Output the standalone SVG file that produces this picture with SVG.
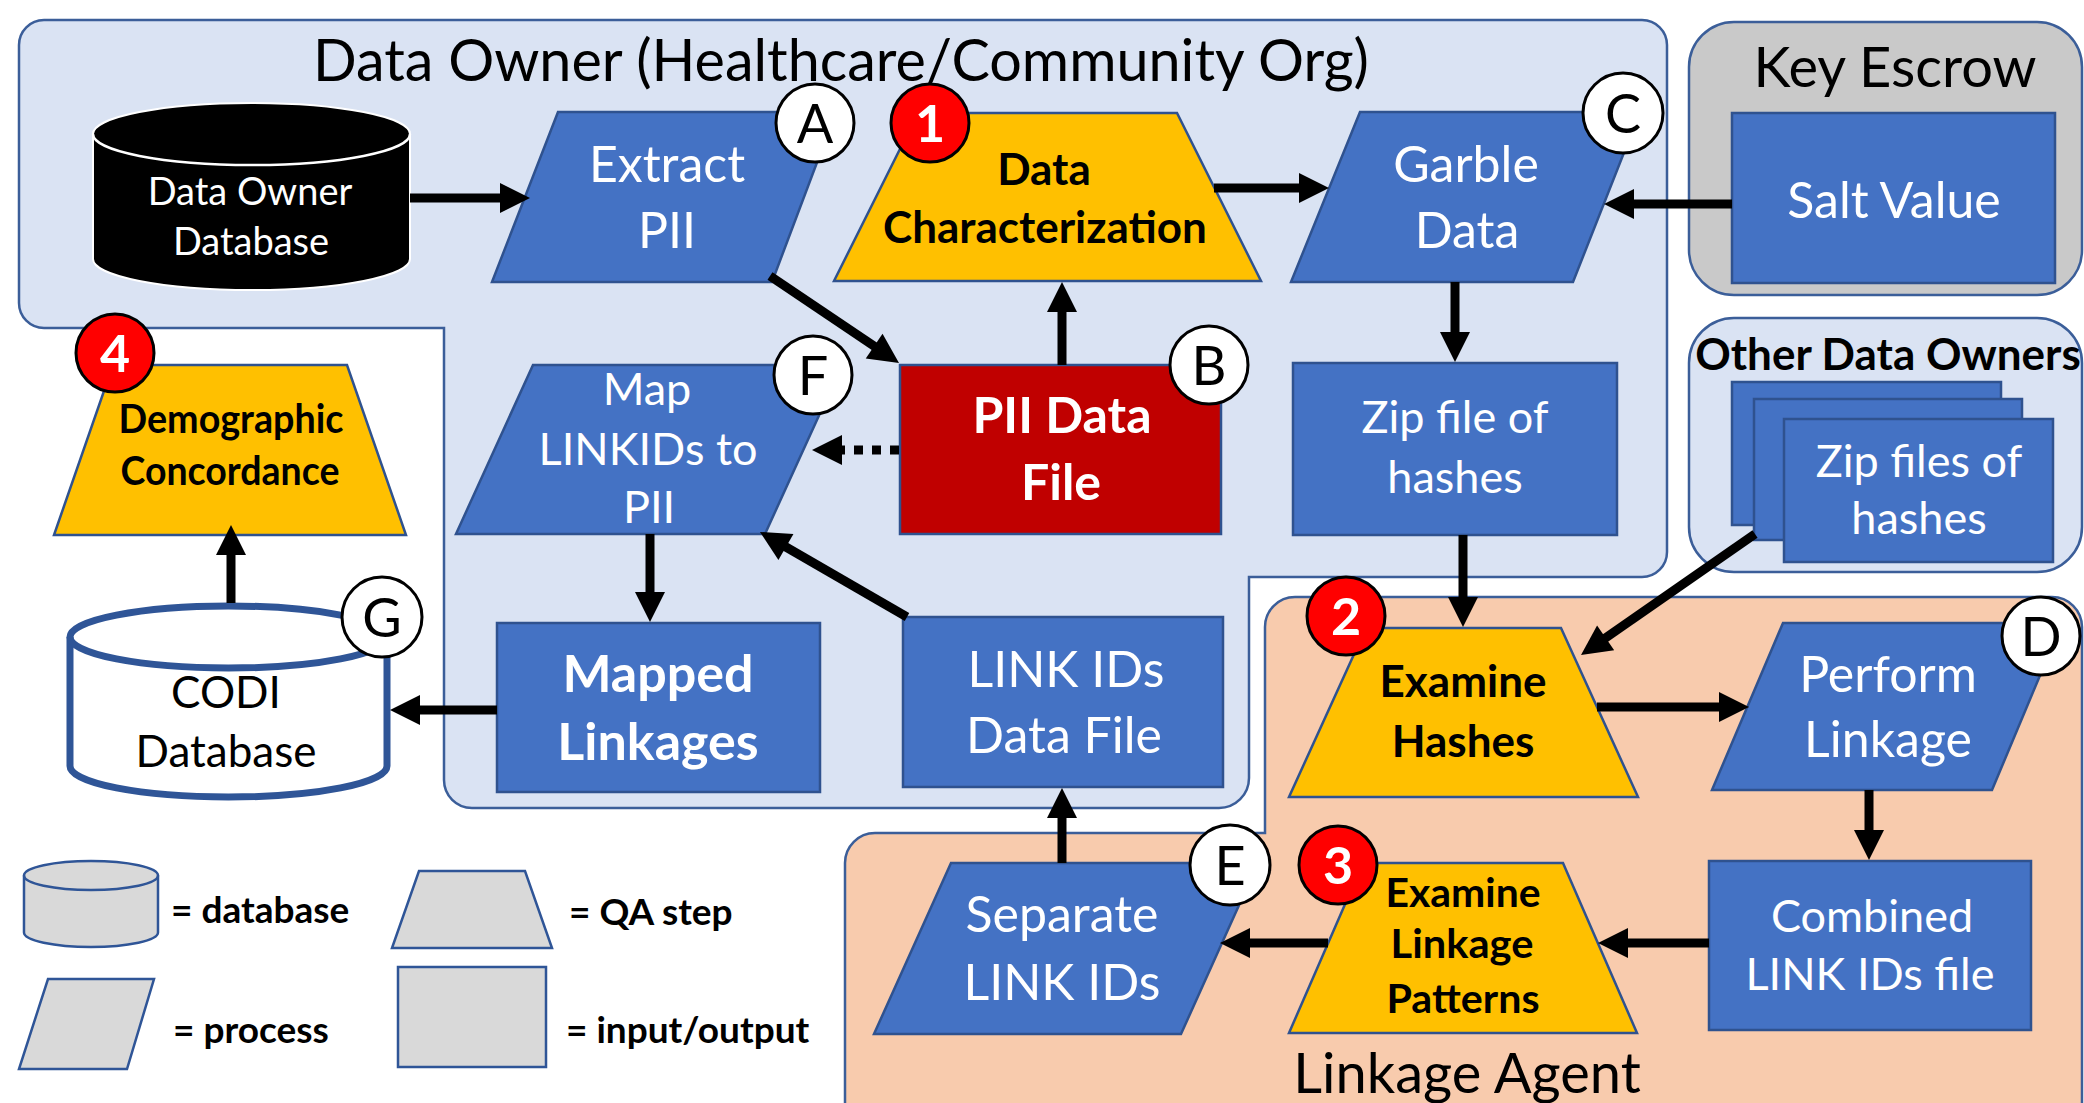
<svg xmlns="http://www.w3.org/2000/svg" width="2084" height="1103" viewBox="0 0 2084 1103">
  <style>
    text { font-family: Lato, "Open Sans", "Liberation Sans", sans-serif; text-anchor: middle; }
    .cont { stroke: #3B5E99; stroke-width: 2.5; }
    .box { fill: #4472C4; stroke: #2F528F; stroke-width: 2.5; }
    .qa { fill: #FFC000; stroke: #2F528F; stroke-width: 2.5; }
    .pii { fill: #C00000; stroke: #2F528F; stroke-width: 2.5; }
    .leg { fill: #D9D9D9; stroke: #2F5597; stroke-width: 2.5; }
    .w { fill: #fff; font-size: 50px; }
    .ws { fill: #fff; font-size: 45px; }
    .wb { fill: #fff; font-size: 50px; font-weight: 700; }
    .kb { fill: #000; font-size: 44px; font-weight: 700; }
    .big { fill: #000; font-size: 56px; }
    .lt { fill: #000; font-size: 37px; font-weight: 700; text-anchor: start; }
    .bw { fill: #fff; stroke: #000; stroke-width: 3; }
    .br { fill: #FF0000; stroke: #000; stroke-width: 3; }
    .bl { fill: #000; font-size: 54px; }
    .bn { fill: #fff; font-size: 52px; font-weight: 700; }
    .arr { stroke: #000; stroke-width: 9; fill: none; marker-end: url(#ah); }
    .dot { stroke-dasharray: 9 9; }
  </style>
  <defs>
    <marker id="ah" markerUnits="userSpaceOnUse" markerWidth="32" markerHeight="30" refX="2" refY="15" orient="auto" overflow="visible">
      <path d="M0,0 L30,15 L0,30 Z" fill="#000"/>
    </marker>
  </defs>

  <rect width="2084" height="1103" fill="#fff"/>

  <!-- swimlane containers -->
  <g id="data-owner-area">
    <path class="cont" fill="#DAE3F3" d="M44,20 H1642 A25,25 0 0 1 1667,45 V552 A25,25 0 0 1 1642,577 H1249 V778 A30,30 0 0 1 1219,808 H472 A28,28 0 0 1 444,780 V328 H44 A25,25 0 0 1 19,303 V45 A25,25 0 0 1 44,20 Z"/>
    <text class="big" style="font-size:57.5px" x="841" y="81">Data Owner (Healthcare/Community Org)</text>
  </g>
  <g id="key-escrow-area">
    <rect class="cont" fill="#C9C9C9" x="1689" y="22" width="393" height="273" rx="45"/>
    <text class="big" x="1895" y="87">Key Escrow</text>
  </g>
  <g id="other-owners-area">
    <rect class="cont" fill="#DAE3F3" x="1689" y="318" width="393" height="254" rx="45"/>
    <text class="kb" x="1888" y="370">Other Data Owners</text>
  </g>
  <g id="linkage-agent-area">
    <path class="cont" fill="#F8CBAD" d="M1295,597 H2052 A30,30 0 0 1 2082,627 V1130 H845 V863 A30,30 0 0 1 875,833 H1265 V627 A30,30 0 0 1 1295,597 Z"/>
    <text class="big" x="1467" y="1093">Linkage Agent</text>
  </g>

  <!-- nodes -->
  <g id="data-owner-db">
    <path d="M93,134 A158.5,31 0 0 1 410,134 V259 A158.5,31 0 0 1 93,259 Z" fill="#000" stroke="#fff" stroke-width="2"/>
    <path d="M93,134 A158.5,31 0 0 0 410,134" fill="none" stroke="#fff" stroke-width="2.5"/>
    <text fill="#fff" font-size="38" x="250" y="205">Data Owner</text>
    <text fill="#fff" font-size="38" x="251" y="255">Database</text>
  </g>
  <g id="extract-pii">
    <polygon class="box" points="558,112 836,112 772,282 492,282"/>
    <text class="w" x="667" y="182">Extract</text>
    <text class="w" x="667" y="248">PII</text>
  </g>
  <g id="data-characterization">
    <polygon class="qa" points="918,113 1177,113 1261,281 834,281"/>
    <text class="kb" x="1044" y="185">Data</text>
    <text class="kb" x="1045" y="243">Characterization</text>
  </g>
  <g id="garble-data">
    <polygon class="box" points="1360,112 1640,112 1573,282 1291,282"/>
    <text class="w" x="1466" y="182">Garble</text>
    <text class="w" x="1467" y="248">Data</text>
  </g>
  <g id="salt-value">
    <rect class="box" x="1732" y="113" width="323" height="170"/>
    <text class="w" x="1894" y="218">Salt Value</text>
  </g>
  <g id="pii-data-file">
    <rect class="pii" x="900" y="365" width="321" height="169"/>
    <text class="wb" x="1062" y="433">PII Data</text>
    <text class="wb" x="1061" y="500">File</text>
  </g>
  <g id="map-linkids">
    <polygon class="box" points="533,365 842,365 765,534 456,534"/>
    <text class="ws" x="647" y="405">Map</text>
    <text class="ws" x="648" y="465">LINKIDs to</text>
    <text class="ws" x="649" y="523">PII</text>
  </g>
  <g id="zip-hashes">
    <rect class="box" x="1293" y="363" width="324" height="172"/>
    <text class="ws" x="1455" y="433">Zip file of</text>
    <text class="ws" x="1455" y="493">hashes</text>
  </g>
  <g id="other-zip-hashes">
    <rect class="box" x="1732" y="382" width="269" height="143"/>
    <rect class="box" x="1754" y="399" width="268" height="141"/>
    <rect class="box" x="1784" y="419" width="269" height="143"/>
    <text class="ws" x="1919" y="477">Zip files of</text>
    <text class="ws" x="1919" y="534">hashes</text>
  </g>
  <g id="demographic-concordance">
    <polygon class="qa" points="113,365 347,365 406,535 54,535"/>
    <text class="kb" style="font-size:40px" x="231" y="433" textLength="225" lengthAdjust="spacingAndGlyphs">Demographic</text>
    <text class="kb" style="font-size:40px" x="230" y="485" textLength="219" lengthAdjust="spacingAndGlyphs">Concordance</text>
  </g>
  <g id="codi-db">
    <path d="M70,637 A158.5,31 0 0 1 387,637 V766 A158.5,31 0 0 1 70,766 Z" fill="#fff" stroke="#2F5597" stroke-width="7"/>
    <path d="M70,637 A158.5,31 0 0 0 387,637" fill="none" stroke="#2F5597" stroke-width="7"/>
    <text fill="#000" font-size="44" x="226" y="708">CODI</text>
    <text fill="#000" font-size="44" x="226" y="767">Database</text>
  </g>
  <g id="mapped-linkages">
    <rect class="box" x="497" y="623" width="323" height="169"/>
    <text class="wb" style="font-size:52px" x="658" y="692">Mapped</text>
    <text class="wb" style="font-size:52px" x="658" y="760">Linkages</text>
  </g>
  <g id="linkids-data-file">
    <rect class="box" x="903" y="617" width="320" height="170"/>
    <text class="w" x="1066" y="687">LINK IDs</text>
    <text class="w" x="1064" y="753">Data File</text>
  </g>
  <g id="examine-hashes">
    <polygon class="qa" points="1366,628 1561,628 1638,797 1289,797"/>
    <text class="kb" x="1463" y="697">Examine</text>
    <text class="kb" x="1463" y="757">Hashes</text>
  </g>
  <g id="perform-linkage">
    <polygon class="box" points="1783,623 2062,623 1992,790 1712,790"/>
    <text class="w" x="1888" y="692">Perform</text>
    <text class="w" x="1888" y="757">Linkage</text>
  </g>
  <g id="combined-linkids">
    <rect class="box" x="1709" y="861" width="322" height="169"/>
    <text class="ws" x="1872" y="932">Combined</text>
    <text class="ws" x="1870" y="990">LINK IDs file</text>
  </g>
  <g id="examine-linkage-patterns">
    <polygon class="qa" points="1363,863 1563,863 1637,1033 1289,1033"/>
    <text class="kb" style="font-size:40px" x="1463" y="907" textLength="155" lengthAdjust="spacingAndGlyphs">Examine</text>
    <text class="kb" style="font-size:40px" x="1462" y="958" textLength="143" lengthAdjust="spacingAndGlyphs">Linkage</text>
    <text class="kb" style="font-size:40px" x="1463" y="1013" textLength="153" lengthAdjust="spacingAndGlyphs">Patterns</text>
  </g>
  <g id="separate-linkids">
    <polygon class="box" points="951,863 1258,863 1181,1034 874,1034"/>
    <text class="w" x="1062" y="932">Separate</text>
    <text class="w" x="1062" y="1000">LINK IDs</text>
  </g>

  <!-- legend -->
  <g id="legend-database">
    <path class="leg" d="M24,875.5 A67,14.5 0 0 1 158,875.5 V932.5 A67,14.5 0 0 1 24,932.5 Z"/>
    <path d="M24,875.5 A67,14.5 0 0 0 158,875.5" fill="none" stroke="#2F5597" stroke-width="2.5"/>
    <text class="lt" x="171" y="923">= database</text>
  </g>
  <g id="legend-qa">
    <polygon class="leg" points="419,871 525,871 552,948 392,948"/>
    <text class="lt" x="569" y="925">= QA step</text>
  </g>
  <g id="legend-process">
    <polygon class="leg" points="48,979 154,979 127,1069 19,1069"/>
    <text class="lt" x="173" y="1043">= process</text>
  </g>
  <g id="legend-io">
    <rect class="leg" x="398" y="967" width="148" height="100"/>
    <text class="lt" x="566" y="1043">= input/output</text>
  </g>

  <!-- connectors -->
  <g id="connectors">
    <line class="arr" x1="410" y1="198" x2="502" y2="198"/>
    <line class="arr" x1="770" y1="276" x2="875.8" y2="347.3"/>
    <line class="arr" x1="1062" y1="365" x2="1062" y2="310"/>
    <line class="arr" x1="1214" y1="188" x2="1301" y2="188"/>
    <line class="arr" x1="1732" y1="204" x2="1632" y2="204"/>
    <line class="arr" x1="1455" y1="282" x2="1455" y2="334"/>
    <line class="arr" x1="1463" y1="535" x2="1463" y2="599"/>
    <line class="arr" x1="1755" y1="534" x2="1604" y2="639"/>
    <line class="arr" x1="1597" y1="707" x2="1721" y2="707"/>
    <line class="arr" x1="1869" y1="790" x2="1869" y2="832"/>
    <line class="arr" x1="1709" y1="943" x2="1626" y2="943"/>
    <line class="arr" x1="1328" y1="943" x2="1248" y2="943"/>
    <line class="arr" x1="1062" y1="863" x2="1062" y2="816"/>
    <line class="arr" x1="907" y1="617" x2="784.2" y2="546"/>
    <line class="arr dot" x1="899" y1="450" x2="840" y2="450"/>
    <line class="arr" x1="650" y1="534" x2="650" y2="594"/>
    <line class="arr" x1="497" y1="710" x2="418" y2="710"/>
    <line class="arr" x1="231" y1="603" x2="231" y2="553"/>
  </g>

  <!-- step badges -->
  <g id="badge-A"><circle class="bw" cx="815" cy="123" r="39"/><text class="bl" x="815" y="143">A</text></g>
  <g id="badge-B"><circle class="bw" cx="1209" cy="365" r="39"/><text class="bl" x="1209" y="385">B</text></g>
  <g id="badge-C"><circle class="bw" cx="1623" cy="113" r="40"/><text class="bl" x="1623" y="133">C</text></g>
  <g id="badge-D"><circle class="bw" cx="2041" cy="636" r="39"/><text class="bl" x="2041" y="656">D</text></g>
  <g id="badge-E"><circle class="bw" cx="1230" cy="865" r="40"/><text class="bl" x="1230" y="885">E</text></g>
  <g id="badge-F"><circle class="bw" cx="813" cy="375" r="39"/><text class="bl" x="813" y="395">F</text></g>
  <g id="badge-G"><circle class="bw" cx="382" cy="617" r="40"/><text class="bl" x="382" y="637">G</text></g>
  <g id="badge-1"><circle class="br" cx="930" cy="123" r="39"/><text class="bn" x="930" y="142">1</text></g>
  <g id="badge-2"><circle class="br" cx="1346" cy="616" r="39"/><text class="bn" x="1346" y="635">2</text></g>
  <g id="badge-3"><circle class="br" cx="1338" cy="865" r="39"/><text class="bn" x="1338" y="884">3</text></g>
  <g id="badge-4"><circle class="br" cx="115" cy="353" r="39"/><text class="bn" x="115" y="372">4</text></g>
</svg>
